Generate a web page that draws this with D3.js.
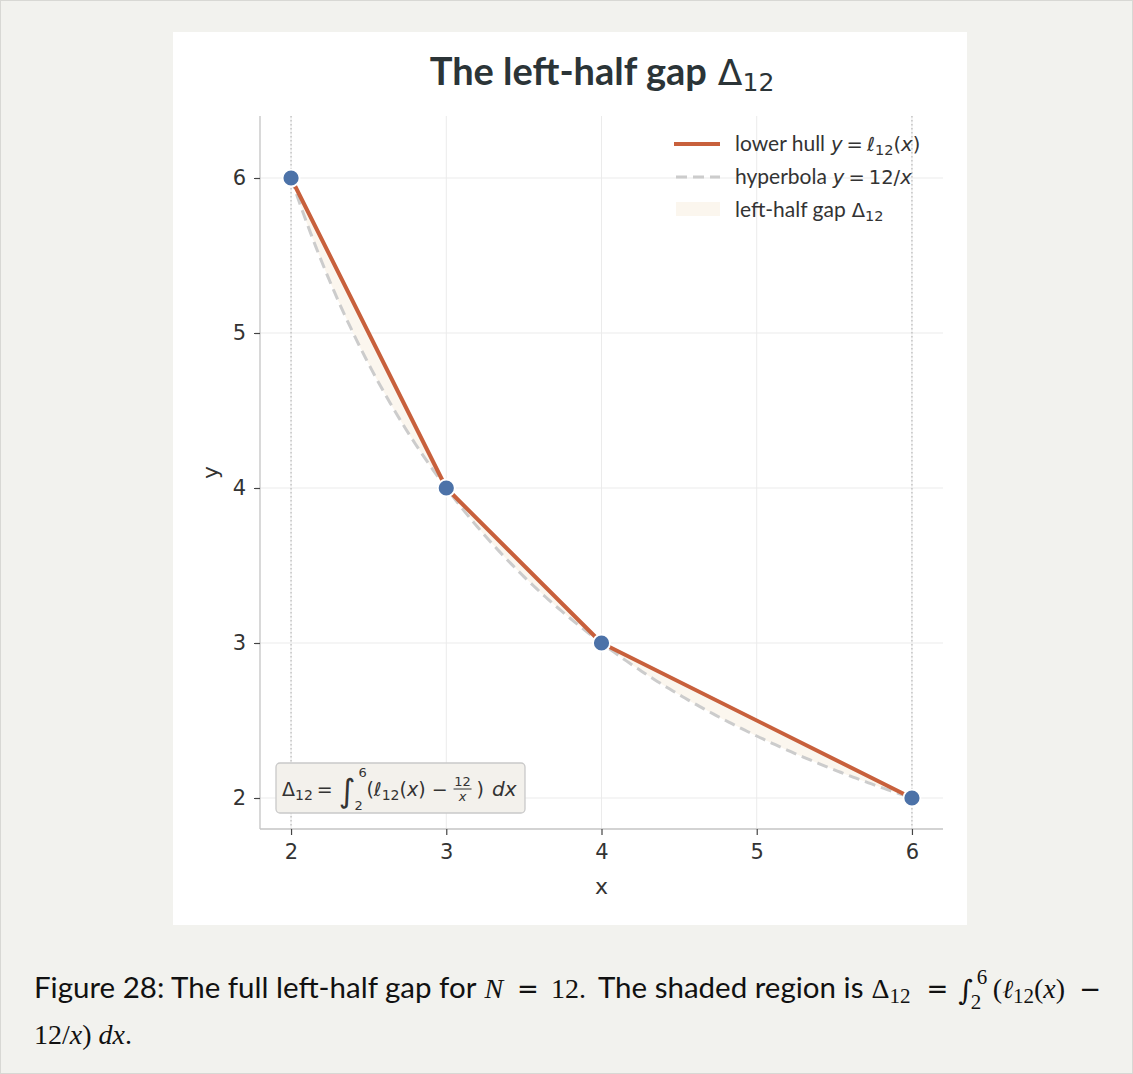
<!DOCTYPE html>
<html>
<head>
<meta charset="utf-8">
<script src="https://cdn.jsdelivr.net/npm/d3@7"></script>
<style>
  html, body { margin: 0; padding: 0; background: #f2f2ee; }
  svg { display: block; }
</style>
</head>
<body>
<svg id="chart" width="1133" height="1074"></svg>
<script>
// Vertices of the lower hull ℓ12 and the hyperbola y = 12/x
const hullX = [2, 3, 4, 6];
const hullY = [6, 4, 3, 2];
const N = 12;
const hyperX = d3.range(0, 201).map(i => 2 + i * 0.02);
const xTicks = [2, 3, 4, 5, 6];
const yTicks = [2, 3, 4, 5, 6];
const legendLabels = ["lower hull", "hyperbola", "left-half gap"];

const SANS = "Lato, 'Noto Sans', sans-serif";
const MATH = "'DejaVu Sans', sans-serif";
const SERIF = "'Liberation Serif', 'DejaVu Serif', serif";
const SERIF2 = "'DejaVu Serif', serif";

const svg = d3.select("#chart");

// lays out a row of text runs left to right, measuring each one
function runs(parent, x0, y0, items, color) {
  let cx = x0;
  items.forEach(it => {
    cx += it.gap || 0;
    const t = parent.append("text")
      .attr("x", cx).attr("y", y0 + (it.dy || 0))
      .style("font-family", it.family).style("font-size", it.size + "px")
      .style("font-style", it.italic ? "italic" : "normal")
      .style("font-weight", it.bold ? "bold" : "normal")
      .attr("fill", color).text(it.t);
    cx += t.node().getComputedTextLength();
    cx += it.after || 0;
  });
  return cx;
}
function label(parent, xx, yy, txt, family, size, opts = {}) {
  return parent.append("text").attr("x", xx).attr("y", yy)
    .attr("text-anchor", opts.anchor || "start")
    .style("font-family", family).style("font-size", size + "px")
    .style("font-style", opts.italic ? "italic" : "normal")
    .attr("fill", opts.color || "#333").text(txt);
}

// page frame
svg.append("rect").attr("x", 0.5).attr("y", 0.5).attr("width", 1132).attr("height", 1073)
  .attr("fill", "#f2f2ee").attr("stroke", "#d8d8d4");
// figure panel
svg.append("rect").attr("x", 173).attr("y", 32).attr("width", 794).attr("height", 893).attr("fill", "#ffffff");

const plot = { left: 260, right: 943, top: 116, bottom: 829 };
const x = d3.scaleLinear().domain([1.8, 6.2]).range([plot.left, plot.right]);
const y = d3.scaleLinear().domain([1.8, 6.4]).range([plot.bottom, plot.top]);

const g = svg.append("g");

// grid
g.selectAll(".gx").data(xTicks).join("line")
  .attr("x1", d => x(d)).attr("x2", d => x(d)).attr("y1", plot.top).attr("y2", plot.bottom)
  .attr("stroke", "#ebebeb").attr("stroke-width", 1);
g.selectAll(".gy").data(yTicks).join("line")
  .attr("x1", plot.left).attr("x2", plot.right).attr("y1", d => y(d)).attr("y2", d => y(d))
  .attr("stroke", "#ebebeb").attr("stroke-width", 1);

// vertical dotted guides at the ends of the interval
g.selectAll(".vguide").data([2, 6]).join("line")
  .attr("x1", d => x(d)).attr("x2", d => x(d)).attr("y1", plot.top).attr("y2", plot.bottom)
  .attr("stroke", "#bdbdbd").attr("stroke-width", 1.3).attr("stroke-dasharray", "1.5,2.5");

// shaded gap between hull and hyperbola
const hullAt = xv => {
  for (let i = 0; i < hullX.length - 1; i++) {
    if (xv >= hullX[i] && xv <= hullX[i + 1]) {
      const t = (xv - hullX[i]) / (hullX[i + 1] - hullX[i]);
      return hullY[i] + t * (hullY[i + 1] - hullY[i]);
    }
  }
  return hullY[hullY.length - 1];
};
const area = d3.area().x(d => x(d)).y0(d => y(N / d)).y1(d => y(hullAt(d)));
g.append("path").datum(hyperX).attr("d", area).attr("fill", "#fbf6ee");

// hyperbola
const hyperLine = d3.line().x(d => x(d)).y(d => y(N / d));
g.append("path").datum(hyperX).attr("d", hyperLine)
  .attr("fill", "none").attr("stroke", "#cccccc").attr("stroke-width", 3)
  .attr("stroke-dasharray", "11,6");

// lower hull
const hullLine = d3.line().x((d, i) => x(hullX[i])).y(d => y(d));
g.append("path").datum(hullY).attr("d", hullLine)
  .attr("fill", "none").attr("stroke", "#c8603c").attr("stroke-width", 4)
  .attr("stroke-linejoin", "round");

// hull vertices
g.selectAll(".pt").data(hullX).join("circle")
  .attr("cx", d => x(d)).attr("cy", (d, i) => y(hullY[i])).attr("r", 8.5)
  .attr("fill", "#4c72a8").attr("stroke", "#ffffff").attr("stroke-width", 1.8);

// axes
const xAxis = d3.axisBottom(x).tickValues(xTicks).tickSize(6).tickPadding(9).tickFormat(d3.format("d"));
const yAxis = d3.axisLeft(y).tickValues(yTicks).tickSize(6).tickPadding(8).tickFormat(d3.format("d"));
const gx = svg.append("g").attr("transform", `translate(0,${plot.bottom})`).call(xAxis);
const gy = svg.append("g").attr("transform", `translate(${plot.left},0)`).call(yAxis);
svg.selectAll(".tick text").style("font-family", MATH).style("font-size", "21px").attr("fill", "#333");
[gx, gy].forEach(a => {
  a.select(".domain").attr("stroke", "#c4c4c4").attr("stroke-width", 1.3);
  a.selectAll(".tick line").attr("stroke", "#444").attr("stroke-width", 1.2);
});
gx.select(".domain").attr("d", `M${plot.left},0H${plot.right}`);
gy.select(".domain").attr("d", `M0,${plot.bottom}V${plot.top}`);

// axis labels
label(svg, x(4), 894, "x", MATH, 22, { anchor: "middle" });
svg.append("text").attr("transform", `translate(218,${y(4.1)}) rotate(-90)`).attr("text-anchor", "middle")
  .style("font-family", MATH).style("font-size", "22px").attr("fill", "#333").text("y");

// title
const titleG = svg.append("g");
const titleEnd = runs(titleG, 0, 85, [
  { t: "The left-half gap", family: SANS, size: 38, bold: true, after: 11 },
  { t: "Δ", family: MATH, size: 36 },
  { t: "12", family: MATH, size: 25, dy: 6 }
], "#2b3437");
titleG.attr("transform", `translate(${602 - titleEnd / 2},0)`);

// legend
const lg = svg.append("g").attr("transform", "translate(674,0)");
lg.append("line").attr("x1", 0).attr("x2", 46).attr("y1", 144).attr("y2", 144)
  .attr("stroke", "#c8603c").attr("stroke-width", 4);
lg.append("line").attr("x1", 2).attr("x2", 46).attr("y1", 177).attr("y2", 177)
  .attr("stroke", "#cccccc").attr("stroke-width", 3).attr("stroke-dasharray", "11,6");
lg.append("rect").attr("x", 2).attr("y", 202).attr("width", 44).attr("height", 14).attr("fill", "#fbf6ee");
const LS = 21, LM = 19.5, LSub = 14.5;
runs(lg, 61, 151, [
  { t: legendLabels[0], family: SANS, size: LS, after: 6 },
  { t: "y", family: MATH, size: LM, italic: true, after: 4 },
  { t: "=", family: MATH, size: LM, after: 4 },
  { t: "ℓ", family: MATH, size: LM, italic: true },
  { t: "12", family: MATH, size: LSub, dy: 4 },
  { t: "(", family: MATH, size: LM },
  { t: "x", family: MATH, size: LM, italic: true },
  { t: ")", family: MATH, size: LM }
], "#333");
runs(lg, 61, 184, [
  { t: legendLabels[1], family: SANS, size: LS, after: 6 },
  { t: "y", family: MATH, size: LM, italic: true, after: 4 },
  { t: "=", family: MATH, size: LM, after: 4 },
  { t: "12/", family: MATH, size: LM },
  { t: "x", family: MATH, size: LM, italic: true }
], "#333");
runs(lg, 61, 217, [
  { t: legendLabels[2], family: SANS, size: LS, after: 6 },
  { t: "Δ", family: MATH, size: LM },
  { t: "12", family: MATH, size: LSub, dy: 4 }
], "#333");

// integral annotation box
svg.append("rect").attr("x", 276).attr("y", 763).attr("width", 249).attr("height", 50).attr("rx", 4)
  .attr("fill", "#f3f1ec").attr("stroke", "#c9c9c9").attr("stroke-width", 1.3);
const ann = svg.append("g");
const AM = 19, AS = 14;
let ax = runs(ann, 282, 796, [
  { t: "Δ", family: MATH, size: AM },
  { t: "12", family: MATH, size: AS, dy: 4, after: 4 },
  { t: "=", family: MATH, size: AM, after: 6 },
  { t: "∫", family: MATH, size: 32, dy: 6, after: 0 }
], "#333");
label(ann, ax + 3, 777, "6", MATH, 13);
label(ann, ax - 1, 810, "2", MATH, 13);
ax = runs(ann, ax + 11, 796, [
  { t: "(", family: MATH, size: AM },
  { t: "ℓ", family: MATH, size: AM, italic: true },
  { t: "12", family: MATH, size: AS, dy: 4 },
  { t: "(", family: MATH, size: AM },
  { t: "x", family: MATH, size: AM, italic: true },
  { t: ")", family: MATH, size: AM, after: 6 },
  { t: "−", family: MATH, size: AM, after: 5 }
], "#333");
const fracC = ax + 10;
label(ann, fracC, 786, "12", MATH, 13, { anchor: "middle" });
ann.append("line").attr("x1", fracC - 9).attr("x2", fracC + 9).attr("y1", 789).attr("y2", 789)
  .attr("stroke", "#333").attr("stroke-width", 1);
label(ann, fracC, 801, "x", MATH, 13, { anchor: "middle", italic: true });
runs(ann, fracC + 14, 796, [
  { t: ")", family: MATH, size: AM, after: 8 },
  { t: "dx", family: MATH, size: AM + 1, italic: true }
], "#333");

// caption
const cap = svg.append("g");
const CS = 29.5, CM = 28, CSub = 21;
let cx = runs(cap, 34, 998, [
  { t: "Figure 28: The full left-half gap for", family: SANS, size: CS, after: 8 },
  { t: "N", family: SERIF, size: CM, italic: true, after: 14 },
  { t: "=", family: MATH, size: 26, after: 12 },
  { t: "12", family: SERIF, size: CM },
  { t: ".", family: SERIF, size: CM, after: 12 },
  { t: "The shaded region is", family: SANS, size: CS, after: 8 },
  { t: "Δ", family: SERIF, size: CM },
  { t: "12", family: SERIF, size: CSub, dy: 5, after: 16 },
  { t: "=", family: MATH, size: 26, after: 10 },
  { t: "∫", family: SERIF2, size: CM, italic: true, dy: 2, after: 0 }
], "#111");
label(cap, cx + 4, 984, "6", SERIF, CSub, { color: "#111" });
label(cap, cx - 2, 1009, "2", SERIF, CSub, { color: "#111" });
runs(cap, cx + 20, 998, [
  { t: "(", family: SERIF, size: CM },
  { t: "ℓ", family: SERIF2, size: CM - 2, italic: true },
  { t: "12", family: SERIF, size: CSub, dy: 5 },
  { t: "(", family: SERIF, size: CM },
  { t: "x", family: SERIF, size: CM, italic: true },
  { t: ")", family: SERIF, size: CM, after: 14 },
  { t: "−", family: MATH, size: 26 }
], "#111");
runs(cap, 34, 1044, [
  { t: "12/", family: SERIF, size: CM },
  { t: "x", family: SERIF, size: CM, italic: true },
  { t: ")", family: SERIF, size: CM, after: 7 },
  { t: "dx", family: SERIF, size: CM, italic: true },
  { t: ".", family: SERIF, size: CM }
], "#111");
</script>
</body>
</html>
